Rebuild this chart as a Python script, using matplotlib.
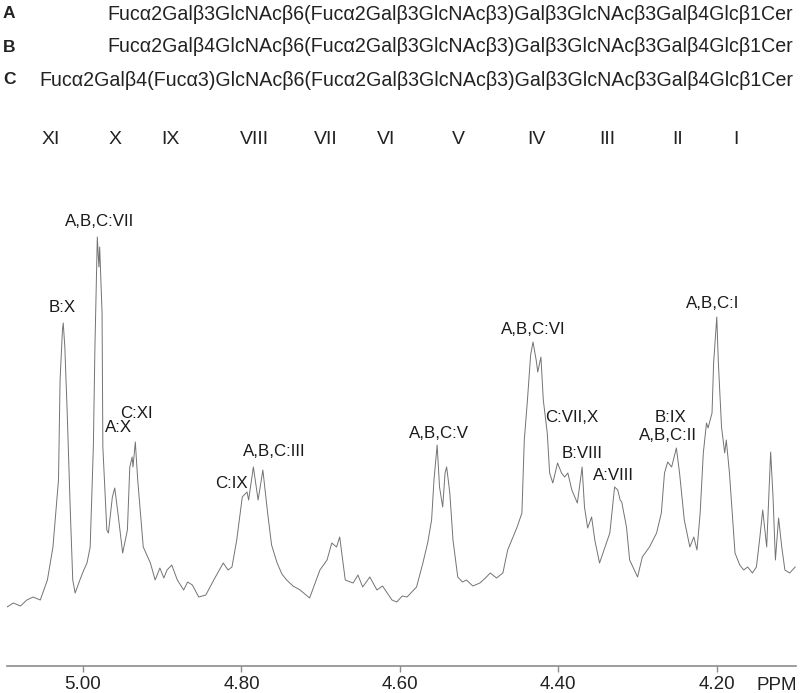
import matplotlib
matplotlib.use("Agg")
import matplotlib.pyplot as plt
import numpy as np

plt.rcParams['font.family'] = ['Liberation Sans', 'DejaVu Sans']

# spectrum: chemical shift (ppm) and intensity (arb. units)
ppm = [5.096, 5.088, 5.079, 5.071, 5.063, 5.054, 5.045, 5.038, 5.031, 5.029,
       5.026, 5.025, 5.023, 5.020, 5.016, 5.013, 5.010, 5.004, 4.999, 4.995,
       4.991, 4.987, 4.985, 4.982, 4.980, 4.979, 4.976, 4.975, 4.970, 4.968,
       4.963, 4.960, 4.956, 4.950, 4.944, 4.941, 4.938, 4.937, 4.934, 4.931,
       4.924, 4.915, 4.909, 4.903, 4.898, 4.894, 4.888, 4.881, 4.873, 4.868,
       4.862, 4.854, 4.845, 4.835, 4.823, 4.817, 4.812, 4.806, 4.799, 4.793,
       4.791, 4.785, 4.779, 4.773, 4.767, 4.762, 4.755, 4.749, 4.743, 4.735,
       4.726, 4.720, 4.714, 4.701, 4.692, 4.686, 4.680, 4.676, 4.669, 4.659,
       4.653, 4.647, 4.638, 4.629, 4.622, 4.616, 4.610, 4.604, 4.597, 4.591,
       4.579, 4.571, 4.565, 4.560, 4.557, 4.553, 4.550, 4.546, 4.543, 4.541,
       4.537, 4.533, 4.527, 4.521, 4.516, 4.508, 4.499, 4.492, 4.486, 4.478,
       4.470, 4.464, 4.452, 4.446, 4.443, 4.439, 4.435, 4.432, 4.428, 4.426,
       4.422, 4.419, 4.414, 4.411, 4.407, 4.401, 4.396, 4.392, 4.388, 4.383,
       4.376, 4.370, 4.367, 4.363, 4.358, 4.354, 4.348, 4.341, 4.335, 4.329,
       4.325, 4.322, 4.320, 4.314, 4.310, 4.300, 4.294, 4.285, 4.276, 4.270,
       4.266, 4.262, 4.257, 4.251, 4.247, 4.241, 4.234, 4.229, 4.225, 4.221,
       4.217, 4.213, 4.211, 4.206, 4.204, 4.200, 4.198, 4.194, 4.190, 4.188,
       4.184, 4.177, 4.171, 4.166, 4.161, 4.155, 4.150, 4.146, 4.142, 4.137,
       4.132, 4.129, 4.126, 4.122, 4.118, 4.114, 4.108, 4.101]
intensity = [59, 63, 60, 66, 69, 66, 86, 119, 186, 286,
             336, 343, 319, 253, 153, 86, 73, 86, 96, 103,
             119, 219, 319, 429, 399, 419, 353, 219, 136, 133,
             169, 178, 153, 113, 136, 199, 209, 199, 224, 186,
             119, 103, 86, 98, 88, 96, 101, 86, 76, 84,
             81, 69, 71, 86, 103, 96, 99, 126, 169, 174,
             166, 199, 166, 196, 153, 121, 103, 92, 86, 80,
             76, 72, 68, 96, 106, 123, 119, 129, 86, 83,
             91, 79, 89, 76, 80, 73, 66, 64, 70, 69,
             79, 103, 123, 146, 186, 221, 179, 159, 193, 199,
             173, 126, 89, 84, 86, 80, 83, 88, 93, 88,
             93, 116, 139, 153, 226, 266, 311, 324, 306, 294,
             309, 266, 233, 193, 183, 203, 193, 189, 193, 176,
             163, 199, 159, 138, 149, 126, 103, 119, 133, 179,
             176, 166, 164, 139, 106, 89, 109, 119, 133, 153,
             193, 204, 199, 218, 193, 146, 119, 129, 116, 153,
             213, 243, 238, 253, 303, 349, 303, 239, 213, 226,
             193, 113, 101, 96, 99, 93, 99, 126, 156, 119,
             214, 169, 106, 148, 119, 96, 93, 99]

# peak assignments: label, ppm, intensity of label centre
peak_labels = ['B:X', 'A,B,C:VII', 'C:XI', 'A:X', 'C:IX', 'A,B,C:III',
               'A,B,C:V', 'A,B,C:VI', 'C:VII,X', 'B:VIII', 'A:VIII',
               'B:IX', 'A,B,C:II', 'A,B,C:I']
label_ppm = [5.026, 4.979, 4.933, 4.955, 4.813, 4.758,
             4.551, 4.432, 4.383, 4.370, 4.330,
             4.259, 4.262, 4.205]
label_int = [359, 444, 253, 238, 183, 214,
             233, 336, 248, 213, 191,
             248, 230, 363]

structures = {
    'A': 'Fuc\u03b12Gal\u03b23GlcNAc\u03b26(Fuc\u03b12Gal\u03b23GlcNAc\u03b23)Gal\u03b23GlcNAc\u03b23Gal\u03b24Glc\u03b21Cer',
    'B': 'Fuc\u03b12Gal\u03b24GlcNAc\u03b26(Fuc\u03b12Gal\u03b23GlcNAc\u03b23)Gal\u03b23GlcNAc\u03b23Gal\u03b24Glc\u03b21Cer',
    'C': 'Fuc\u03b12Gal\u03b24(Fuc\u03b13)GlcNAc\u03b26(Fuc\u03b12Gal\u03b23GlcNAc\u03b23)Gal\u03b23GlcNAc\u03b23Gal\u03b24Glc\u03b21Cer',
}
residues = ['XI', 'X', 'IX', 'VIII', 'VII', 'VI', 'V', 'IV', 'III', 'II', 'I']
residue_x = [51, 115, 170, 254, 326, 386, 458, 536, 607, 678, 736]  # pixel columns

W, H = 800, 693
fig = plt.figure(figsize=(8, 6.93), dpi=100)
ax = fig.add_axes([7 / W, 1 - 666 / H, 789 / W, (666 - 180) / H])

ax.plot(ppm, intensity, color='#737373', lw=0.7)
ax.set_xlim(5.096, 4.100)
ax.set_ylim(0, 486)

for s in ['top', 'left', 'right']:
    ax.spines[s].set_visible(False)
ax.spines['bottom'].set_color('#8c8c8c')
ax.spines['bottom'].set_linewidth(1.2)
ax.set_yticks([])
ax.set_xticks([5.0, 4.8, 4.6, 4.4, 4.2])
ax.set_xticklabels(['5.00', '4.80', '4.60', '4.40', '4.20'])
ax.tick_params(axis='x', colors='#8c8c8c', length=4.5, width=1, pad=3,
               labelsize=13.5, labelcolor='#222222')
ax.patch.set_alpha(0)

for lab, x, y in zip(peak_labels, label_ppm, label_int):
    ax.text(x, y, lab, ha='center', va='center', fontsize=12.2, color='#1a1a1a')

fig.text(777 / W, 1 - 686 / H, 'PPM', ha='center', va='center', fontsize=13.5,
         color='#222222')

row_y = {'A': 14, 'B': 47, 'C': 80}
for key, txt in structures.items():
    fig.text(3 / W, 1 - row_y[key] / H, key, ha='left', va='center',
             fontsize=12.5, fontweight='bold', color='#222222')
    fig.text(793 / W, 1 - row_y[key] / H, txt, ha='right', va='center',
             fontsize=14.1, color='#222222')

for r, x in zip(residues, residue_x):
    fig.text(x / W, 1 - 140 / H, r, ha='center', va='center', fontsize=14,
             color='#222222')

fig.savefig('out.png', dpi=100)
